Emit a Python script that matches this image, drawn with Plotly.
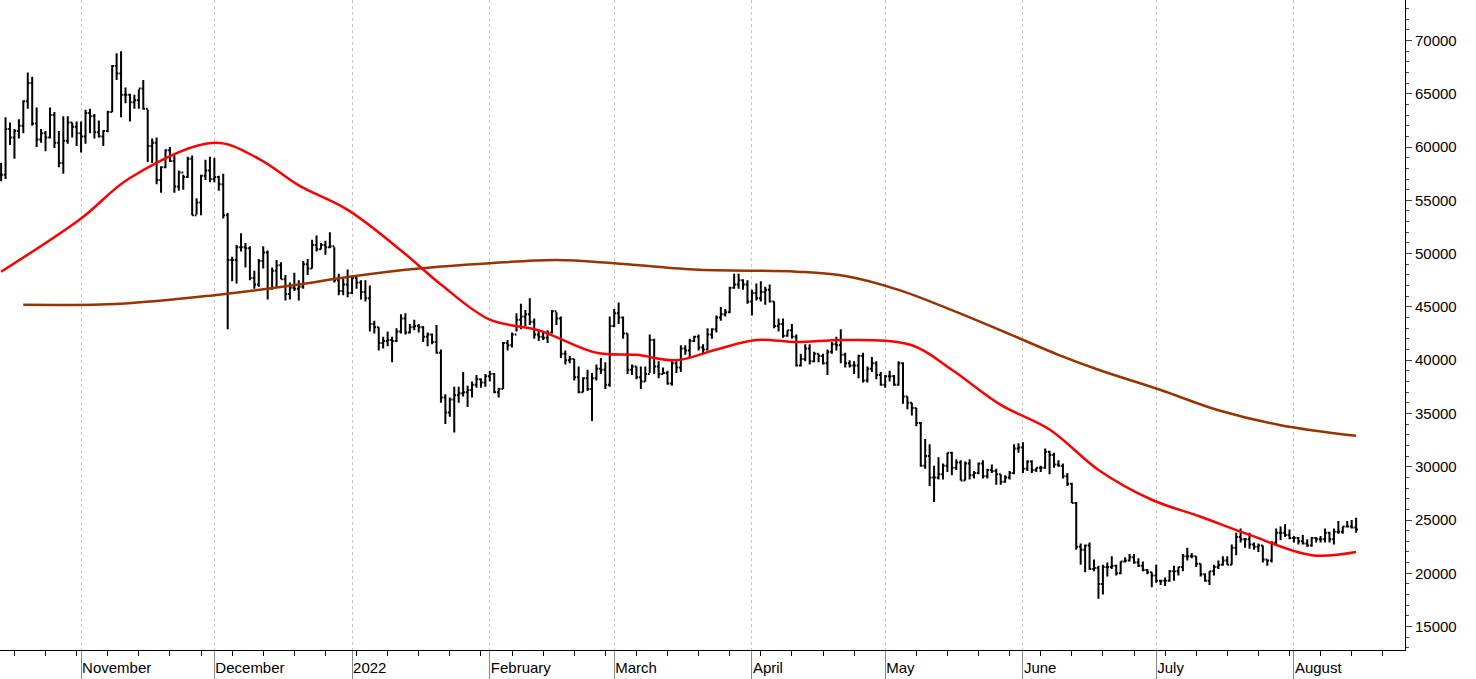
import pandas as pd
import plotly.graph_objects as go

# daily BTC bars, 2021-10-14 .. 2022-08-15 (values in thousands)
start = "2021-10-14"
highs = [58.5,62.8,62.3,61.7,62.6,64.4,67.0,66.6,63.7,61.7,61.5,63.7,63.3,61.5,62.9,62.9,62.3,62.4,
         62.4,63.5,63.6,63.1,62.5,61.6,63.4,67.7,68.8,69.0,65.6,65.0,64.9,65.4,66.3,63.5,60.8,60.9,58.2,59.8,60.0,59.3,57.8,57.4,59.1,59.2,55.2,57.4,58.8,59.1,
         59.0,57.3,57.5,53.8,49.7,50.8,51.9,51.0,50.7,48.4,49.5,50.7,50.3,48.7,49.4,49.2,48.0,47.3,48.2,47.5,49.3,49.5,51.3,51.7,51.0,51.2,52.0,50.6,48.1,47.8,48.5,
         47.9,47.9,47.5,47.5,47.0,43.7,43.1,42.2,42.7,42.2,43.0,44.3,44.4,43.4,43.8,43.4,43.2,42.6,42.5,43.3,41.0,36.8,36.5,37.5,37.5,38.9,37.6,38.0,38.6,38.3,38.7,
         39.0,38.8,37.4,41.7,41.9,42.6,44.4,45.3,44.7,45.8,43.9,42.9,42.7,42.8,44.7,44.5,44.1,40.9,40.4,40.1,39.4,38.4,39.1,38.8,39.6,40.2,39.8,44.1,
         44.8,45.4,44.1,42.5,39.6,39.4,39.4,39.4,42.4,42.0,39.9,39.3,39.0,39.9,39.9,41.4,41.4,42.0,42.3,42.4,41.5,43.0,43.0,44.2,45.0,44.8,46.9,48.1,48.1,47.6,47.5,
         46.6,47.2,47.4,46.9,47.1,45.5,43.9,43.9,42.8,43.4,42.4,40.6,41.5,41.5,40.8,40.6,40.6,41.0,41.7,42.2,42.9,40.7,40.0,39.9,40.5,40.7,39.4,40.3,39.9,38.9,
         38.6,39.0,38.6,39.9,39.8,36.6,36.0,35.5,34.2,32.6,32.1,30.1,30.9,30.3,31.3,31.4,30.7,30.6,30.5,30.7,29.6,30.4,30.6,29.8,30.2,29.8,29.3,29.2,29.6,32.1,32.2,
         32.3,30.6,30.6,29.9,30.1,31.7,31.5,31.3,30.6,30.3,29.4,28.5,26.7,22.8,22.7,22.9,21.3,20.7,20.8,21.0,21.6,20.8,21.1,21.5,21.8,21.8,21.4,21.1,20.4,20.1,
         20.8,19.4,19.6,20.3,20.7,20.6,21.8,22.4,21.9,21.6,20.9,20.0,20.2,20.8,21.2,21.6,21.6,22.7,23.8,24.2,23.3,23.8,22.9,22.8,22.6,21.3,23.0,24.2,24.4,24.6,24.1,
         23.5,23.4,23.6,23.2,23.4,23.4,23.5,24.2,23.9,24.2,24.9,24.4,24.9,25.0,25.2]
lows = [56.8,57.0,60.2,58.9,60.8,61.3,63.6,62.0,60.0,60.4,59.6,60.8,59.9,58.1,57.5,60.3,60.9,60.1,
        59.5,60.3,61.3,60.8,60.9,60.1,61.4,63.3,66.3,62.8,64.1,62.4,63.6,63.6,63.5,58.6,58.5,56.5,55.7,58.0,58.6,55.7,55.9,56.0,57.1,53.6,53.7,53.6,56.9,56.7,
        56.7,55.9,53.3,42.9,47.4,47.2,50.2,48.7,47.5,46.7,46.9,48.6,45.7,46.6,46.8,47.6,45.6,45.7,46.5,45.6,46.7,48.0,48.6,50.2,50.4,49.9,50.5,47.3,46.1,46.1,45.9,
        46.2,46.7,45.7,45.5,42.7,42.5,40.9,41.1,41.3,39.8,41.7,42.5,42.4,42.5,42.8,42.6,41.7,41.3,41.5,40.6,36.0,34.0,34.7,33.2,36.0,36.6,35.6,36.5,37.4,37.4,37.5,
        38.0,36.9,36.5,37.3,40.9,41.2,42.7,42.9,43.2,43.3,42.0,41.8,41.9,41.6,42.5,43.3,40.2,39.6,39.7,38.1,36.9,37.0,37.1,34.3,38.1,38.7,37.3,37.5,
        43.1,43.4,42.0,38.7,38.6,38.2,37.3,38.0,38.8,38.7,38.3,38.7,37.7,37.6,38.8,38.9,40.5,40.3,41.7,40.9,40.6,40.9,42.0,42.6,43.7,44.1,44.4,46.7,46.7,46.6,45.3,
        44.2,45.6,45.5,45.2,45.4,43.0,42.7,42.1,42.2,42.0,39.4,39.4,39.9,39.6,39.8,39.8,39.6,38.6,40.6,40.9,39.7,39.3,39.3,38.7,38.3,37.9,37.9,38.9,38.2,37.6,
        37.4,38.0,37.6,37.6,35.9,35.4,34.8,33.8,30.0,29.8,28.2,26.7,28.8,28.8,29.5,29.2,29.7,28.7,28.7,28.8,28.9,29.3,28.9,28.9,29.4,28.3,28.3,28.5,28.8,29.3,31.3,
        29.4,29.6,29.4,29.5,29.5,29.8,29.3,29.9,30.0,28.9,28.2,26.6,22.2,20.8,20.1,20.3,20.2,17.6,18.0,19.7,20.4,19.8,19.9,21.0,21.1,20.9,20.6,20.2,19.9,18.7,
        19.1,18.9,18.8,19.2,19.3,19.8,20.2,21.2,21.4,20.6,19.7,19.2,18.9,19.8,20.4,20.7,20.8,20.8,21.7,22.9,22.4,22.3,22.2,22.0,21.0,20.7,21.0,22.6,23.1,23.4,23.2,
        22.9,22.7,22.7,22.5,22.5,22.9,22.9,22.9,22.9,22.7,23.7,23.7,24.3,24.2,23.8]
closes = [57.4,61.7,60.9,61.5,62.0,64.3,66.0,62.2,60.7,61.3,60.9,63.0,60.4,58.5,60.6,62.3,61.9,61.3,
          61.0,63.2,62.9,61.4,61.0,61.5,63.3,67.6,66.9,64.9,64.9,64.2,64.4,65.5,63.6,60.1,60.4,56.9,58.1,59.7,58.7,56.3,57.6,57.2,58.9,53.6,54.8,57.3,57.8,57.0,
          57.2,56.5,53.6,49.4,49.4,50.6,50.6,50.5,47.7,47.1,49.3,50.1,46.7,48.4,48.9,47.6,46.2,46.8,46.7,46.9,49.0,48.6,50.8,50.4,50.8,50.6,50.7,47.5,46.5,47.1,46.3,
          47.7,47.3,46.4,45.8,43.4,43.1,41.6,41.8,41.9,41.8,42.7,43.9,42.6,43.1,43.2,43.1,42.2,42.4,41.7,40.7,36.5,35.1,36.3,36.7,36.9,37.0,37.2,37.7,38.2,37.9,38.5,
          38.7,37.0,37.3,41.6,41.4,42.4,43.8,44.1,44.3,43.6,42.4,42.2,42.1,42.6,44.6,43.9,40.6,40.0,40.1,38.4,37.0,38.3,37.3,38.3,39.2,39.1,37.7,43.2,
          44.4,44.0,42.5,39.1,39.4,38.4,38.0,38.7,41.9,39.4,38.7,38.8,37.8,39.7,39.3,41.1,40.9,41.8,42.2,41.2,41.0,42.4,42.9,44.0,44.3,44.5,46.8,47.1,47.5,47.1,45.5,
          46.3,45.8,46.4,46.6,45.5,43.2,43.4,42.3,42.8,42.2,39.5,40.1,41.1,39.9,40.6,40.4,39.7,40.8,41.5,41.4,40.5,39.7,39.5,39.5,40.4,38.1,39.2,39.7,38.6,37.7,
          38.5,38.5,37.7,39.7,36.6,36.0,35.5,34.1,30.1,31.0,29.0,29.0,29.3,30.1,31.3,29.9,30.4,28.7,30.3,29.2,29.4,30.3,29.1,29.7,29.6,29.3,28.6,29.0,29.4,31.7,31.8,
          29.8,30.5,29.7,29.9,29.9,31.4,31.1,30.2,30.1,29.1,28.4,26.6,22.5,22.2,22.6,20.4,20.5,19.0,20.6,20.6,20.7,20.0,21.1,21.2,21.5,21.0,20.7,20.3,20.1,19.8,
          19.3,19.3,19.3,20.2,20.2,20.6,21.6,21.6,21.6,20.9,19.9,19.3,20.2,20.6,20.8,21.2,20.8,22.4,23.4,23.2,23.2,22.7,22.5,22.6,21.3,21.2,22.9,23.8,23.8,23.6,23.3,
          23.3,23.0,22.8,22.6,23.3,23.2,23.2,23.8,23.2,23.9,23.9,24.4,24.4,24.3,24.1]

ma50_dates = ["2021-10-14","2021-11-01","2021-11-12","2021-12-01","2021-12-11","2021-12-20","2021-12-31",
              "2022-01-12","2022-01-21","2022-02-01","2022-02-12","2022-02-25","2022-03-06","2022-03-15",
              "2022-03-24","2022-04-02","2022-04-11","2022-04-22","2022-05-07","2022-05-16","2022-05-27",
              "2022-06-07","2022-06-18","2022-06-30","2022-07-11","2022-07-22","2022-08-05","2022-08-15"]
ma50 = [48.3,53.3,57.1,60.4,58.9,56.4,54.1,50.3,47.1,43.8,42.8,40.7,40.5,40.0,41.0,41.9,41.7,41.9,
        41.4,39.1,35.8,33.5,29.7,26.9,25.3,23.6,21.7,22.0]
ma200_dates = ["2021-10-19","2021-11-10","2021-12-01","2021-12-20","2021-12-31","2022-01-16","2022-02-01",
               "2022-02-16","2022-03-01","2022-03-19","2022-04-11","2022-04-22","2022-05-04","2022-05-16",
               "2022-05-27","2022-06-09","2022-06-18","2022-07-02","2022-07-15","2022-07-29","2022-08-15"]
ma200 = [45.2,45.3,46.1,47.1,47.8,48.6,49.1,49.4,49.1,48.5,48.3,47.9,46.6,44.7,42.8,40.5,39.1,37.2,
         35.3,33.9,32.9]

dates = pd.date_range(start, periods=len(closes), freq="D")
df = pd.DataFrame({"high": highs, "low": lows, "close": closes}, index=dates) * 1000
df["open"] = df["close"].shift(1).fillna(df["close"])

fig = go.Figure()
fig.add_trace(go.Ohlc(x=df.index, open=df["open"], high=df["high"], low=df["low"], close=df["close"],
                      increasing_line_color="black", decreasing_line_color="black",
                      line_width=2, tickwidth=0.4, showlegend=False))
fig.add_trace(go.Scatter(x=pd.to_datetime(ma200_dates), y=[v * 1000 for v in ma200], mode="lines",
                         line=dict(color="#993300", width=2.5, shape="spline"), showlegend=False))
fig.add_trace(go.Scatter(x=pd.to_datetime(ma50_dates), y=[v * 1000 for v in ma50], mode="lines",
                         line=dict(color="#ff0000", width=2.5, shape="spline"), showlegend=False))

fig.update_layout(
    width=1476, height=679, paper_bgcolor="white", plot_bgcolor="white",
    margin=dict(l=0, r=71, t=0, b=29, autoexpand=False),
    font=dict(family="Arial, Liberation Sans", size=15, color="black"),
)
fig.update_xaxes(
    type="date", range=["2021-10-13 18:00", "2022-08-26"], automargin=False,
    rangeslider_visible=False,
    tickvals=pd.date_range("2021-11-01", "2022-08-01", freq="MS"),
    ticktext=["November", "December", "2022", "February", "March", "April", "May", "June", "July", "August"],
    ticklabelposition="outside right", ticklabelstandoff=4,
    showgrid=True, gridcolor="#c8c8c8", griddash="dot", gridwidth=1,
    showline=True, linecolor="black", linewidth=1, mirror=True,
    ticks="outside", ticklen=28, tickcolor="#888",
    minor=dict(ticks="outside", ticklen=5, dtick=7 * 86400000, tickcolor="black"),
)
fig.update_yaxes(
    side="right", range=[12800, 73800], automargin=False,
    tickvals=list(range(15000, 75000, 5000)), tickformat="d",
    showgrid=False, zeroline=False,
    showline=True, linecolor="black", linewidth=1, mirror=True,
    ticks="outside", ticklen=6,
    minor=dict(ticks="outside", ticklen=3, dtick=1000),
)
fig.write_html("out.html", config={"displayModeBar": False},
               post_script="document.body.style.margin='0px';")
